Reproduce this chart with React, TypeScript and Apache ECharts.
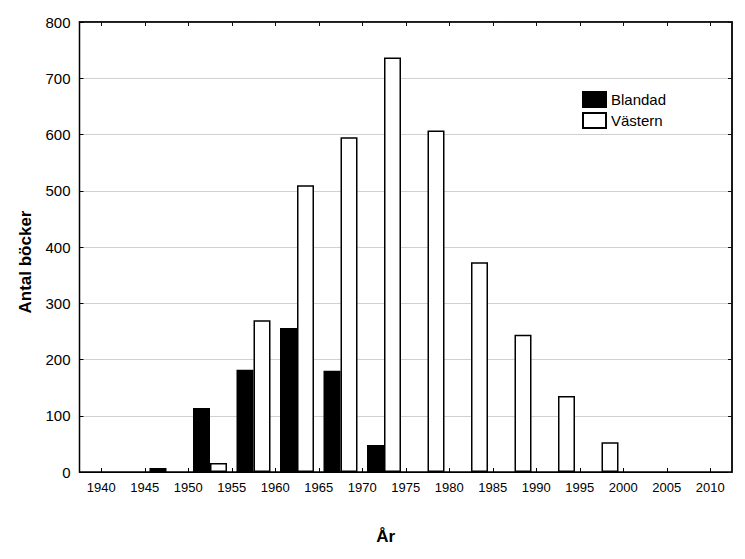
import React, { useEffect, useRef } from "react";
import * as echarts from "echarts";

const binStarts = [1945, 1950, 1955, 1960, 1965, 1970, 1975, 1980, 1985, 1990, 1995];
const blandad = [7, 114, 182, 256, 180, 48, null, null, null, null, null];
const vastern = [null, 16, 270, 510, 595, 737, 607, 373, 244, 135, 53];
const xTicks = [1940, 1945, 1950, 1955, 1960, 1965, 1970, 1975, 1980, 1985, 1990, 1995, 2000, 2005, 2010];
const yMin = 0;
const yMax = 800;
const yStep = 100;

const FONT = "'Liberation Sans', Arial, sans-serif";

export default function App() {
  const ref = useRef<HTMLDivElement>(null);
  useEffect(() => {
    document.body.style.margin = "0";
    const chart = echarts.init(ref.current!, null, { renderer: "svg" });
    const toData = (vals: (number | null)[]) =>
      binStarts.map((y, i) => [y + 2.5, vals[i]]).filter((d) => d[1] !== null);
    chart.setOption({
      animation: false,
      backgroundColor: "#fff",
      grid: { left: 79.5, top: 22, right: 13, bottom: 87, show: true, borderColor: "#000", borderWidth: 1.5 },
      legend: {
        orient: "vertical",
        left: 582,
        top: 91,
        padding: 0,
        itemWidth: 23,
        itemHeight: 15,
        itemGap: 4,
        icon: "rect",
        textStyle: { fontSize: 15, color: "#000", fontFamily: FONT },
        data: ["Blandad", "Västern"],
      },
      xAxis: [
        {
          type: "value",
          min: 1937.5,
          max: 2012.5,
          position: "bottom",
          name: "År",
          nameLocation: "middle",
          nameGap: 56,
          nameTextStyle: { fontSize: 17, fontWeight: "bold", color: "#000", fontFamily: FONT, padding: [0, 40, 0, 0] },
          splitLine: { show: false },
          axisLine: { show: true, onZero: false, lineStyle: { color: "#000", width: 1 } },
          axisTick: { show: true, inside: true, length: 4, customValues: xTicks, lineStyle: { color: "#000" } },
          axisLabel: {
            show: true,
            customValues: xTicks,
            margin: 9,
            fontSize: 13,
            color: "#000",
            fontFamily: FONT,
            formatter: (v: number) => String(v),
          },
        },
        {
          type: "category",
          data: xTicks.map(String),
          boundaryGap: true,
          position: "top",
          splitLine: { show: false },
          axisLine: { show: true, onZero: false, lineStyle: { color: "#111", width: 1.5 } },
          axisTick: { show: true, inside: true, length: 4, alignWithLabel: true, interval: 0, lineStyle: { color: "#111", width: 1 } },
          axisLabel: { show: false },
        },
      ],
      yAxis: [
        {
          type: "value",
          min: yMin,
          max: yMax,
          interval: yStep,
          position: "left",
          name: "Antal böcker",
          nameLocation: "middle",
          nameRotate: 90,
          nameGap: 46,
          nameTextStyle: { fontSize: 17, fontWeight: "bold", color: "#000", fontFamily: FONT, padding: [0, 30, 0, 0] },
          axisLine: { show: true, onZero: false, lineStyle: { color: "#000", width: 1 } },
          axisTick: { show: true, inside: true, length: 4, lineStyle: { color: "#000" } },
          axisLabel: { margin: 9, fontSize: 15, color: "#000", fontFamily: FONT },
          splitLine: { show: true, lineStyle: { color: "#a0a0a0", type: "dotted", width: 1 } },
        },
        {
          type: "value",
          min: yMin,
          max: yMax,
          interval: yStep,
          position: "right",
          axisLine: { show: true, onZero: false, lineStyle: { color: "#111", width: 1.5 } },
          axisTick: { show: true, inside: true, length: 4, lineStyle: { color: "#111", width: 1 } },
          axisLabel: { show: false },
          splitLine: { show: false },
        },
      ],
      series: [
        {
          name: "Blandad",
          type: "bar",
          barWidth: 17,
          barGap: "0%",
          data: toData(blandad),
          itemStyle: { color: "#000", borderColor: "#000", borderWidth: 1.5 },
        },
        {
          name: "Västern",
          type: "bar",
          barWidth: 17,
          barGap: "0%",
          data: toData(vastern),
          itemStyle: { color: "#fff", borderColor: "#000", borderWidth: 1.5 },
        },
      ],
    });
    return () => chart.dispose();
  }, []);
  return <div ref={ref} style={{ width: 745, height: 559 }} />;
}
